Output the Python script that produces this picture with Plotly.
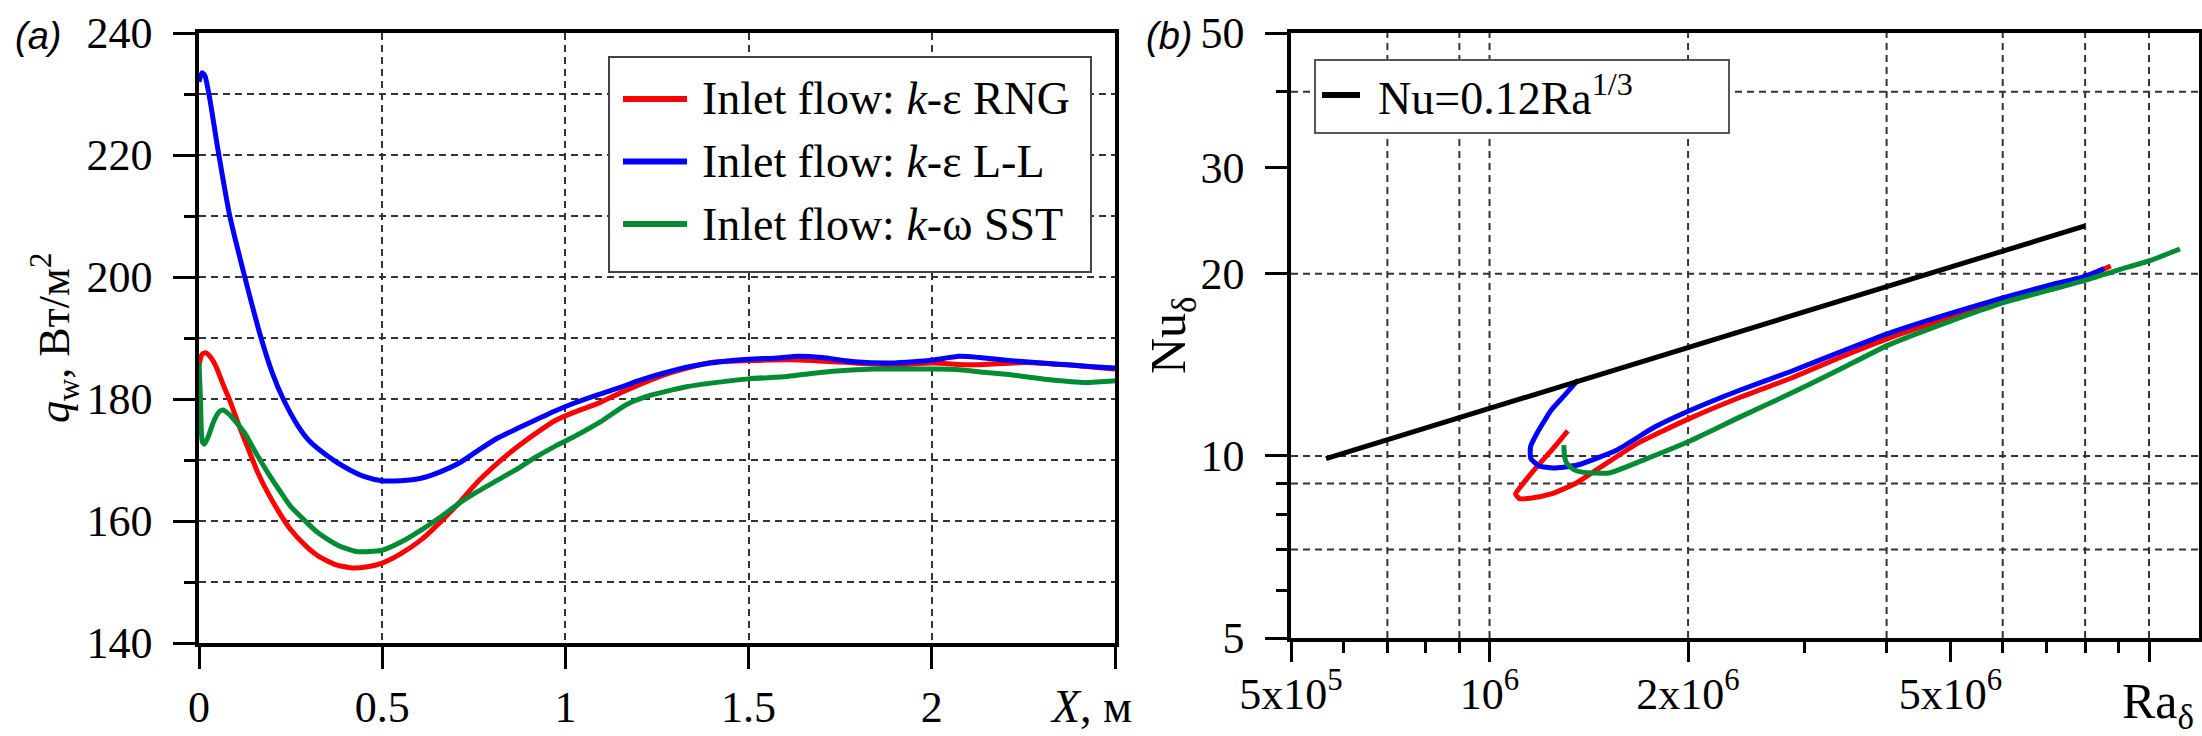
import math
import plotly.graph_objects as go

W, H = 2202, 736
SERIF = "Liberation Serif"

# ---------- panel (a): wall heat flux along X ----------
x_rng = [0.000, 0.008, 0.018, 0.030, 0.045, 0.065, 0.085, 0.11, 0.136, 0.16, 0.188, 0.22,
         0.25, 0.29, 0.324, 0.37, 0.418, 0.46, 0.50, 0.55, 0.606, 0.66, 0.71, 0.76, 0.815,
         0.87, 0.92, 0.97, 1.023, 1.094, 1.15, 1.272, 1.397, 1.50, 1.637, 1.79, 1.897, 2.003,
         2.107, 2.26, 2.37, 2.5]
q_rng = [185.5, 187.3, 187.6, 187.0, 185.5, 182.5, 179.6, 175.5, 171.6, 168.0, 164.6, 161.3,
         158.6, 156.0, 154.3, 152.9, 152.3, 152.5, 153.1, 154.6, 156.9, 159.9, 163.0, 166.4, 169.5,
         172.2, 174.4, 176.4, 177.8, 179.4, 181.0, 184.0, 186.0, 186.3, 186.4, 185.9, 185.6, 185.9,
         185.6, 186.0, 185.6, 184.9]

x_ll = [0.000, 0.008, 0.016, 0.03, 0.05, 0.084, 0.125, 0.167, 0.20, 0.23, 0.27, 0.30, 0.35,
        0.396, 0.45, 0.50, 0.55, 0.606, 0.66, 0.71, 0.76, 0.815, 0.87, 0.92, 0.97, 1.023, 1.094,
        1.15, 1.20, 1.272, 1.33, 1.397, 1.50, 1.57, 1.637, 1.70, 1.79, 1.897, 1.95, 2.003, 2.075,
        2.13, 2.21, 2.30, 2.37, 2.44, 2.5]
q_ll = [232.0, 233.5, 233.0, 229.0, 221.5, 210.0, 200.0, 190.5, 184.3, 180.0, 175.6, 173.2, 170.7,
        168.9, 167.3, 166.6, 166.6, 167.0, 168.1, 169.5, 171.5, 173.6, 175.2, 176.6, 178.0, 179.3, 180.8,
        181.9, 183.0, 184.3, 185.2, 185.9, 186.5, 186.7, 187.0, 186.8, 186.1, 185.9, 186.1, 186.4, 187.0,
        186.8, 186.3, 185.9, 185.6, 185.3, 185.1]

x_sst = [0.000, 0.004, 0.009, 0.015, 0.025, 0.04, 0.055, 0.065, 0.08, 0.10, 0.125, 0.155, 0.188,
         0.22, 0.25, 0.29, 0.324, 0.38, 0.43, 0.50, 0.55, 0.606, 0.66, 0.71, 0.76, 0.815, 0.87,
         0.92, 0.97, 1.023, 1.094, 1.167, 1.22, 1.272, 1.33, 1.397, 1.50, 1.605, 1.69, 1.77, 1.845,
         1.92, 2.003, 2.075, 2.14, 2.21, 2.316, 2.42, 2.5]
q_sst = [186.0, 180.0, 173.0, 172.6, 173.8, 176.3, 177.9, 178.2, 177.6, 176.3, 174.4, 171.2, 167.9,
         165.0, 162.4, 160.0, 158.1, 156.0, 155.0, 155.2, 156.5, 158.5, 160.7, 162.9, 164.8, 166.7, 168.6,
         170.5, 172.2, 173.8, 176.2, 179.1, 180.4, 181.2, 182.0, 182.6, 183.3, 183.7, 184.3, 184.7, 184.9,
         184.9, 184.9, 184.8, 184.4, 184.0, 183.2, 182.7, 183.0]

# ---------- panel (b): Nu vs Ra (log-log) ----------
ra_rng = [1.314e6, 1.25e6, 1.18e6, 1.12e6, 1.095e6, 1.11e6, 1.16e6, 1.24e6, 1.35e6, 1.457e6,
          1.667e6, 2.0e6, 2.4e6, 2.87e6, 3.4e6, 4.0e6, 5.0e6, 6.0e6, 7.0e6, 8.0e6, 8.75e6]
nu_rng = [11.0, 10.3, 9.6, 8.95, 8.65, 8.5, 8.52, 8.65, 9.0, 9.5,
          10.45, 11.5, 12.5, 13.45, 14.55, 15.6, 16.95, 18.05, 18.95, 19.75, 20.6]

ra_ll = [1.362e6, 1.30e6, 1.24e6, 1.18e6, 1.154e6, 1.155e6, 1.19e6, 1.25e6, 1.36e6, 1.56e6,
         1.78e6, 2.0e6, 2.4e6, 2.87e6, 3.4e6, 4.0e6, 5.0e6, 6.0e6, 7.0e6, 8.0e6, 8.55e6]
nu_ll = [13.35, 12.6, 11.9, 10.9, 10.35, 9.9, 9.62, 9.55, 9.66, 10.23,
         11.16, 11.85, 12.85, 13.8, 14.85, 15.9, 17.2, 18.25, 19.1, 19.8, 20.4]

ra_sst = [1.296e6, 1.30e6, 1.31e6, 1.34e6, 1.381e6, 1.517e6, 1.71e6, 2.0e6, 2.4e6, 2.87e6,
          3.4e6, 4.0e6, 5.0e6, 6.0e6, 7.0e6, 8.0e6, 9.0e6, 1.0e7, 1.114e7]
nu_sst = [10.42, 9.95, 9.72, 9.5, 9.4, 9.37, 9.84, 10.55, 11.6, 12.7,
          13.9, 15.2, 16.7, 17.9, 18.75, 19.5, 20.3, 21.0, 21.98]

ra_corr = [5.65e5, 8.0e6]
nu_corr = [9.9, 24.0]

names_a = ["Inlet flow: <i>k</i>-ε RNG", "Inlet flow: <i>k</i>-ε L-L", "Inlet flow: <i>k</i>-ω SST"]
colors = ["#ff0000", "#0000ff", "#008c32"]
name_b = "Nu=0.12Ra<sup>1/3</sup>"

# axis ticks / grids
a_xticks = [0, 0.5, 1, 1.5, 2, 2.5]
a_xlabels = ["0", "0.5", "1", "1.5", "2", ""]
a_yticks = [140, 160, 180, 200, 220, 240]
a_yminor = [150, 170, 190, 210, 230]

b_xticks = [5e5, 1e6, 2e6, 5e6, 1e7]
b_xlabels = ["5x10<sup>5</sup>", "10<sup>6</sup>", "2x10<sup>6</sup>", "5x10<sup>6</sup>", ""]
b_xminor = [6e5, 7e5, 8e5, 9e5, 3e6, 4e6, 6e6, 7e6, 8e6, 9e6]
b_xgrid = [7e5, 9e5, 1e6, 2e6, 4e6, 6e6, 8e6, 1e7]
b_yticks = [5, 10, 20, 30, 50]
b_yminor = [6, 7, 8, 9, 40]
b_ygrid = [7, 9, 10, 20, 40]

# layout geometry (pixels)
A_L, A_R, A_T, A_B = 199, 1115, 33, 643
B_L, B_R, B_T, B_B = 1291, 2199, 33, 638
RA_LO = 5e5
PX_PER_DEC = 659.5
ra_hi_log = math.log10(RA_LO) + (B_R - B_L) / PX_PER_DEC

GRID_C = "#333333"
GRID_DASH = "7px,5px"

fig = go.Figure()

# dashed grid of panel (b) drawn as background lines
gx, gy = [], []
for v in b_xgrid:
    gx += [v, v, None]
    gy += [5, 50, None]
for v in b_ygrid:
    gx += [RA_LO, 10 ** ra_hi_log, None]
    gy += [v, v, None]
fig.add_trace(go.Scatter(x=gx, y=gy, mode="lines", xaxis="x2", yaxis="y2",
                         line=dict(color=GRID_C, width=2, dash=GRID_DASH),
                         hoverinfo="skip", showlegend=False))

for xs, ys, nm, c in zip([x_rng, x_ll, x_sst], [q_rng, q_ll, q_sst], names_a, colors):
    fig.add_trace(go.Scatter(x=xs, y=ys, name=nm, mode="lines", xaxis="x", yaxis="y",
                             line=dict(color=c, width=5, shape="spline", smoothing=0.6),
                             showlegend=False))

for xs, ys, c in zip([ra_rng, ra_ll, ra_sst], [nu_rng, nu_ll, nu_sst], colors):
    fig.add_trace(go.Scatter(x=xs, y=ys, mode="lines", xaxis="x2", yaxis="y2",
                             line=dict(color=c, width=5, shape="spline", smoothing=0.5),
                             showlegend=False))
fig.add_trace(go.Scatter(x=ra_corr, y=nu_corr, name=name_b, mode="lines", xaxis="x2", yaxis="y2",
                         line=dict(color="black", width=5), showlegend=False))

tickfont = dict(family=SERIF, size=44, color="black")
frame = dict(showline=True, mirror=True, linewidth=3.5, linecolor="black", automargin=False,
             ticks="outside", tickwidth=3, tickcolor="black", zeroline=False, tickfont=tickfont)

fig.update_layout(
    template="none",
    width=W, height=H, margin=dict(l=0, r=0, t=0, b=0, pad=0), autosize=False,
    font=dict(family=SERIF, size=44, color="black"),
    paper_bgcolor="white", plot_bgcolor="white", showlegend=False,
    xaxis=dict(domain=[A_L / W, A_R / W], range=[0, 2.5], tickmode="array",
               tickvals=a_xticks, ticktext=a_xlabels, ticklen=22, ticklabelstandoff=0,
               showgrid=True, gridcolor=GRID_C, gridwidth=2, griddash=GRID_DASH, **frame),
    yaxis=dict(domain=[1 - A_B / H, 1 - A_T / H], range=[140, 240], tickmode="array",
               tickvals=a_yticks, ticktext=[str(v) for v in a_yticks],
               ticklen=22, ticklabelstandoff=12,
               showgrid=True, gridcolor=GRID_C, gridwidth=2, griddash=GRID_DASH,
               minor=dict(tickmode="array", tickvals=a_yminor, ticklen=11, tickwidth=3,
                          tickcolor="black", ticks="outside", showgrid=True,
                          gridcolor=GRID_C, gridwidth=2, griddash=GRID_DASH),
               **frame),
    xaxis2=dict(domain=[B_L / W, B_R / W], type="log",
                range=[math.log10(RA_LO), ra_hi_log], tickmode="array",
                tickvals=b_xticks, ticktext=b_xlabels, ticklen=20, ticklabelstandoff=-6,
                showgrid=False,
                minor=dict(tickmode="array", tickvals=b_xminor, ticklen=11, tickwidth=3,
                           tickcolor="black", ticks="outside", showgrid=False),
                anchor="y2", **frame),
    yaxis2=dict(domain=[1 - B_B / H, 1 - B_T / H], type="log",
                range=[math.log10(5), math.log10(50)], tickmode="array",
                tickvals=b_yticks, ticktext=[str(v) for v in b_yticks],
                ticklen=22, ticklabelstandoff=12, showgrid=False,
                minor=dict(tickmode="array", tickvals=b_yminor, ticklen=11, tickwidth=3,
                           tickcolor="black", ticks="outside", showgrid=False),
                anchor="x2", **frame),
)

shapes = []
annots = []

# legend of panel (a)
shapes.append(dict(type="rect", xref="x domain", yref="y domain",
                   x0=(609 - A_L) / (A_R - A_L), x1=(1091 - A_L) / (A_R - A_L),
                   y0=1 - (272 - A_T) / (A_B - A_T), y1=1 - (57 - A_T) / (A_B - A_T),
                   line=dict(color="#444444", width=2), fillcolor="white", layer="above"))
for i, (nm, c) in enumerate(zip(names_a, colors)):
    yrow = 1 - (99 + 62.5 * i - A_T) / (A_B - A_T)
    shapes.append(dict(type="line", xref="x domain", yref="y domain",
                       x0=(623 - A_L) / (A_R - A_L), x1=(687 - A_L) / (A_R - A_L),
                       y0=yrow, y1=yrow, line=dict(color=c, width=6), layer="above"))
    annots.append(dict(xref="x domain", yref="y domain", x=(700 - A_L) / (A_R - A_L), y=yrow,
                       text=nm, showarrow=False, xanchor="left", yanchor="middle",
                       font=dict(family=SERIF, size=46, color="black")))

# legend of panel (b)
shapes.append(dict(type="rect", xref="x2 domain", yref="y2 domain",
                   x0=(1315 - B_L) / (B_R - B_L), x1=(1729 - B_L) / (B_R - B_L),
                   y0=1 - (133 - B_T) / (B_B - B_T), y1=1 - (60 - B_T) / (B_B - B_T),
                   line=dict(color="#555555", width=2), fillcolor="white", layer="above"))
yrow_b = 1 - (95 - B_T) / (B_B - B_T)
shapes.append(dict(type="line", xref="x2 domain", yref="y2 domain",
                   x0=(1322 - B_L) / (B_R - B_L), x1=(1360 - B_L) / (B_R - B_L),
                   y0=yrow_b, y1=yrow_b, line=dict(color="black", width=6), layer="above"))
annots.append(dict(xref="x2 domain", yref="y2 domain", x=(1376 - B_L) / (B_R - B_L), y=yrow_b,
                   text=name_b, showarrow=False, xanchor="left", yanchor="middle",
                   font=dict(family=SERIF, size=46, color="black")))

# axis titles and panel letters
annots += [
    dict(xref="paper", yref="paper", x=55 / W, y=1 - 338 / H, textangle=-90,
         text="<i>q</i><sub>w</sub>, Вт/м<sup>2</sup>", showarrow=False,
         xanchor="center", yanchor="middle", font=dict(family=SERIF, size=44, color="black")),
    dict(xref="paper", yref="paper", x=1091 / W, y=1 - 706 / H,
         text="<i>X</i>, м", showarrow=False, xanchor="center", yanchor="middle",
         font=dict(family=SERIF, size=46, color="black")),
    dict(xref="paper", yref="paper", x=1172 / W, y=1 - 335 / H, textangle=-90,
         text="Nu<sub>δ</sub>", showarrow=False, xanchor="center", yanchor="middle",
         font=dict(family=SERIF, size=50, color="black")),
    dict(xref="paper", yref="paper", x=2158 / W, y=1 - 705 / H,
         text="Ra<sub>δ</sub>", showarrow=False, xanchor="center", yanchor="middle",
         font=dict(family=SERIF, size=50, color="black")),
    dict(xref="paper", yref="paper", x=38 / W, y=1 - 36 / H, text="<i>(a)</i>",
         showarrow=False, xanchor="center", yanchor="middle",
         font=dict(family="Liberation Sans", size=38, color="black")),
    dict(xref="paper", yref="paper", x=1169 / W, y=1 - 36 / H, text="<i>(b)</i>",
         showarrow=False, xanchor="center", yanchor="middle",
         font=dict(family="Liberation Sans", size=38, color="black")),
]

fig.update_layout(shapes=shapes, annotations=annots)
fig.write_html("out.html")
